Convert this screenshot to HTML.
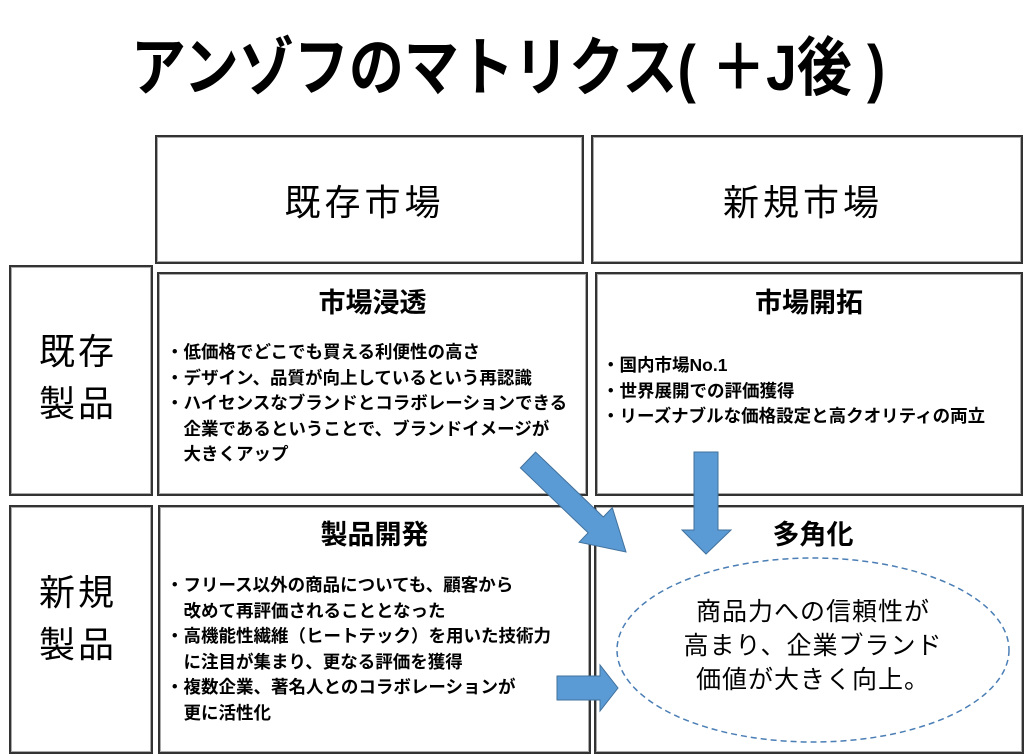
<!DOCTYPE html>
<html><head><meta charset="utf-8"><style>
body{margin:0;width:1024px;height:754px;background:#fff;position:relative;overflow:hidden;font-family:"Liberation Sans","Noto Sans CJK JP",sans-serif;color:#000}
.b{position:absolute;border:2px solid #333;box-sizing:border-box;box-shadow:inset 0 0 0 1px #aaa}
.t{position:absolute;white-space:nowrap}
.h{font-size:36px;letter-spacing:4px}
.ct{font-weight:bold;font-size:27px}
.bl{font-weight:bold;font-size:17.5px;line-height:25.5px}
</style></head><body>
<div class="t" style="left:77px;top:24px;width:770px;text-align:center;font-size:64px;font-weight:bold;line-height:88px;transform:scaleX(0.86);transform-origin:center">アンゾフのマトリクス( ＋J後 )</div>

<div class="b" style="left:155px;top:135px;width:429px;height:129px"></div>
<div class="b" style="left:591px;top:135px;width:432px;height:129px"></div>
<div class="t h" style="left:150px;top:174px;width:429px;text-align:center">既存市場</div>
<div class="t h" style="left:587px;top:174px;width:432px;text-align:center">新規市場</div>

<div class="b" style="left:9px;top:265px;width:144px;height:231px"></div>
<div class="b" style="left:9px;top:505px;width:144px;height:249px"></div>
<div class="t h" style="left:39px;top:326px;line-height:52px;white-space:normal;width:100px;letter-spacing:3px">既存<br>製品</div>
<div class="t h" style="left:39px;top:567px;line-height:52px;white-space:normal;width:100px;letter-spacing:3px">新規<br>製品</div>

<div class="b" style="left:157px;top:272px;width:431px;height:224px"></div>
<div class="b" style="left:595px;top:272px;width:428px;height:224px"></div>
<div class="b" style="left:158px;top:505px;width:433px;height:249px"></div>
<div class="b" style="left:594px;top:505px;width:430px;height:249px"></div>

<div class="t ct" style="left:157px;top:281px;width:431px;text-align:center">市場浸透</div>
<div class="t ct" style="left:595px;top:281px;width:428px;text-align:center">市場開拓</div>
<div class="t ct" style="left:158px;top:513px;width:433px;text-align:center">製品開発</div>
<div class="t ct" style="left:594px;top:513px;width:430px;text-align:center;padding-left:4px">多角化</div>

<div class="t bl" style="left:166px;top:340px">・低価格でどこでも買える利便性の高さ<br>・デザイン、品質が向上しているという再認識<br>・ハイセンスなブランドとコラボレーションできる<br>　企業であるということで、ブランドイメージが<br>　大きくアップ</div>
<div class="t bl" style="left:602px;top:353px">・国内市場No.1<br>・世界展開での評価獲得<br>・リーズナブルな価格設定と高クオリティの両立</div>
<div class="t bl" style="left:166px;top:573px">・フリース以外の商品についても、顧客から<br>　改めて再評価されることとなった<br>・高機能性繊維（ヒートテック）を用いた技術力<br>　に注目が集まり、更なる評価を獲得<br>・複数企業、著名人とのコラボレーションが<br>　更に活性化</div>

<svg style="position:absolute;left:0;top:0" width="1024" height="754">
<ellipse cx="813" cy="650" rx="196" ry="92" fill="none" stroke="#4a7eb5" stroke-width="1.5" stroke-dasharray="6,4"/>
<g fill="#5b9bd5" stroke="#41719c" stroke-width="1">
<polygon points="535.6,452.1 603.3,517 612.3,507.6 626,552 579.1,542.2 588.1,532.8 520.4,467.9"/>
<polygon points="694,452 718,452 718,530 731,530 706,554 682,530 694,530"/>
<polygon points="557,676 600,676 600,665 618,688 600,711 600,700 557,700"/>
</g>
</svg>
<div class="t" style="left:617px;top:595px;width:392px;text-align:center;font-size:25px;line-height:34px;letter-spacing:1px">商品力への信頼性が<br>高まり、企業ブランド<br>価値が大きく向上。</div>
</body></html>
